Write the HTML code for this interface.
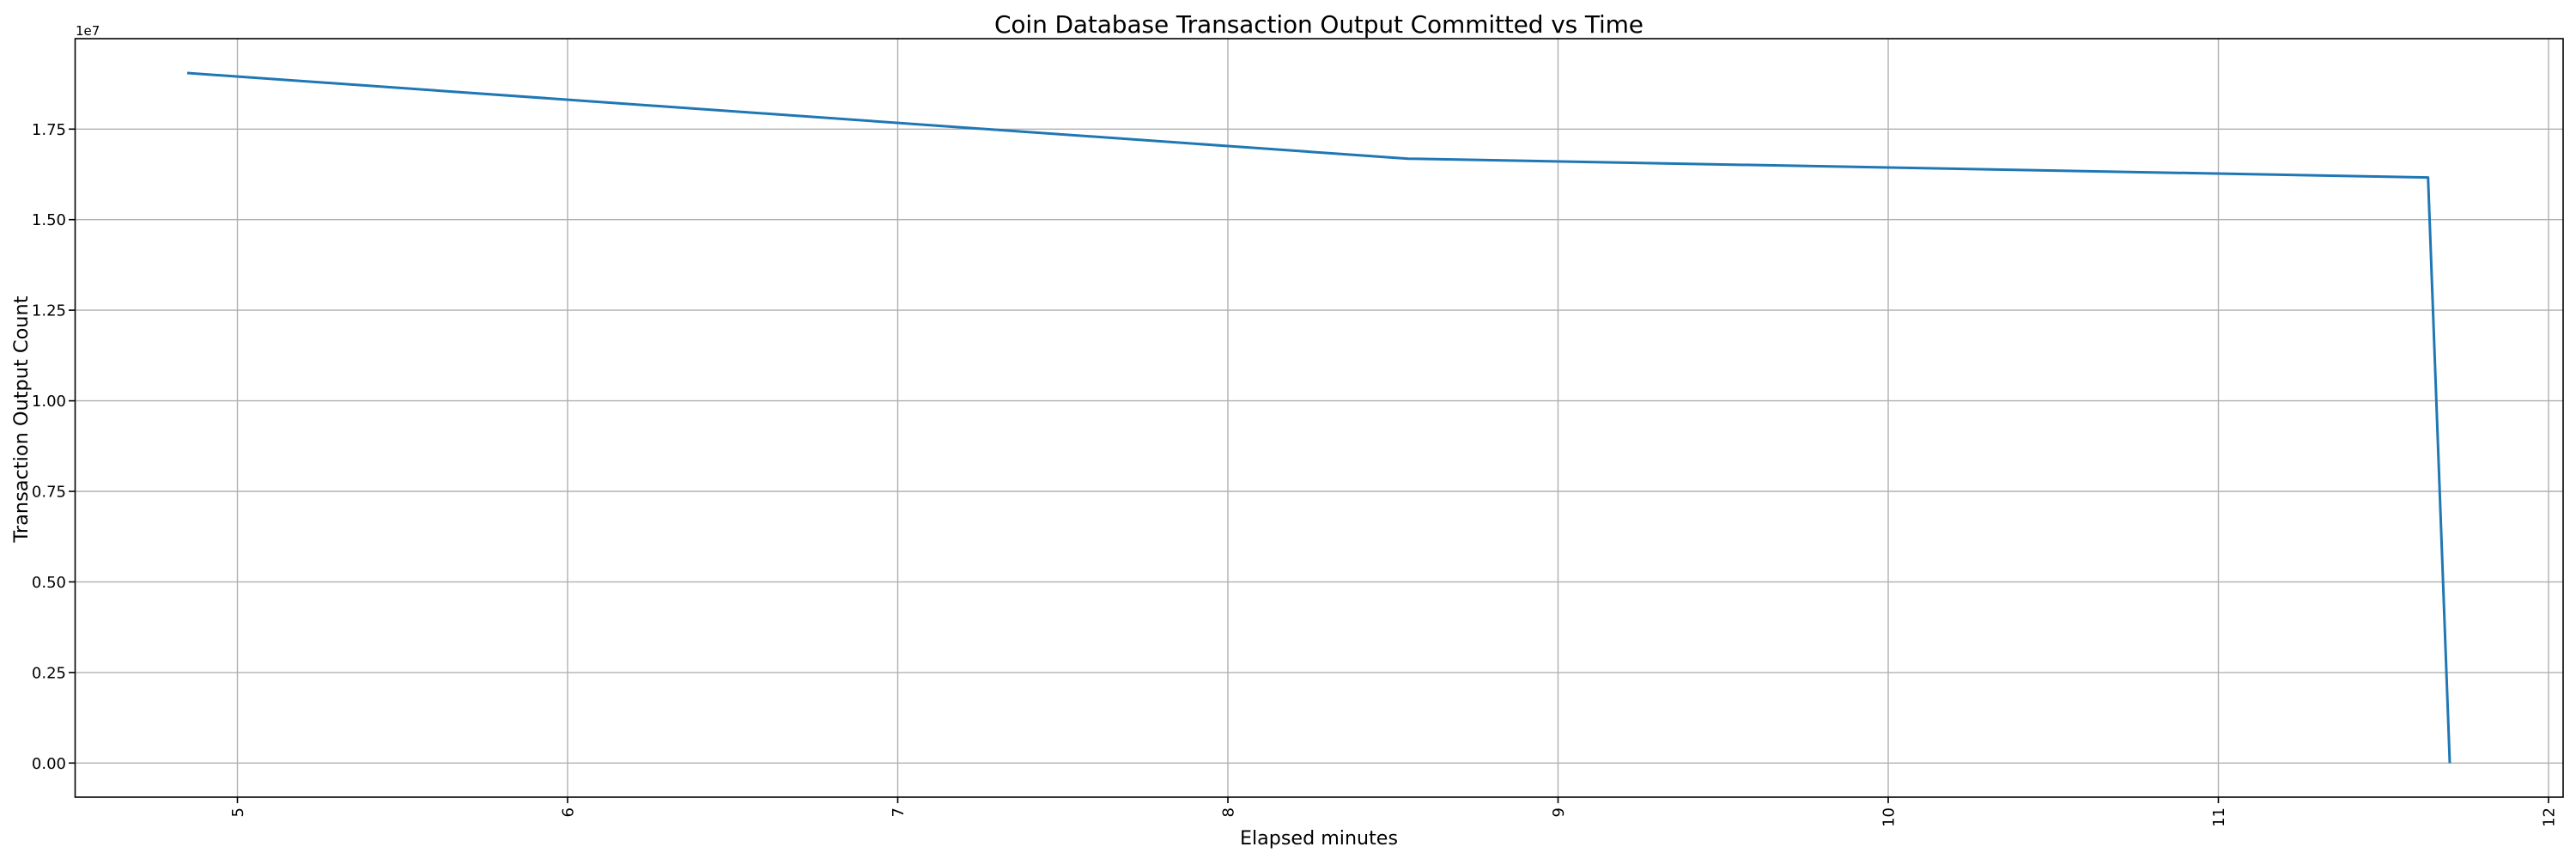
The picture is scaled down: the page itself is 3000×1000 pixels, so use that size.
<!DOCTYPE html>
<html><head><meta charset="utf-8"><style>body{margin:0;background:#fff}svg{display:block}</style></head>
<body>
<svg width="3000" height="1000" xmlns="http://www.w3.org/2000/svg" font-family="'DejaVu Sans','Liberation Sans',sans-serif">
<rect width="3000" height="1000" fill="#fff"/>
<g stroke="#b0b0b0" stroke-width="1.4">
<line x1="276.5" y1="45" x2="276.5" y2="928"/>
<line x1="661" y1="45" x2="661" y2="928"/>
<line x1="1045.5" y1="45" x2="1045.5" y2="928"/>
<line x1="1430" y1="45" x2="1430" y2="928"/>
<line x1="1814.5" y1="45" x2="1814.5" y2="928"/>
<line x1="2199" y1="45" x2="2199" y2="928"/>
<line x1="2583.5" y1="45" x2="2583.5" y2="928"/>
<line x1="2968" y1="45" x2="2968" y2="928"/>
<line x1="87.5" y1="150.3" x2="2985" y2="150.3"/>
<line x1="87.5" y1="255.7" x2="2985" y2="255.7"/>
<line x1="87.5" y1="361.1" x2="2985" y2="361.1"/>
<line x1="87.5" y1="466.6" x2="2985" y2="466.6"/>
<line x1="87.5" y1="572" x2="2985" y2="572"/>
<line x1="87.5" y1="677.4" x2="2985" y2="677.4"/>
<line x1="87.5" y1="782.9" x2="2985" y2="782.9"/>
<line x1="87.5" y1="888.3" x2="2985" y2="888.3"/>
</g>
<polyline points="218,85 1430,170 1640,184.7 2827.7,206.6 2853,888.3" fill="none" stroke="#1f77b4" stroke-width="3" stroke-linejoin="round"/>
<rect x="87.5" y="45" width="2897.5" height="883" fill="none" stroke="#000" stroke-width="1.6"/>
<g stroke="#000" stroke-width="1.6">
<line x1="80" y1="150.3" x2="87.5" y2="150.3"/><line x1="80" y1="255.7" x2="87.5" y2="255.7"/>
<line x1="80" y1="361.1" x2="87.5" y2="361.1"/><line x1="80" y1="466.6" x2="87.5" y2="466.6"/>
<line x1="80" y1="572" x2="87.5" y2="572"/><line x1="80" y1="677.4" x2="87.5" y2="677.4"/>
<line x1="80" y1="782.9" x2="87.5" y2="782.9"/><line x1="80" y1="888.3" x2="87.5" y2="888.3"/>
<line x1="276.5" y1="928" x2="276.5" y2="935"/><line x1="661" y1="928" x2="661" y2="935"/>
<line x1="1045.5" y1="928" x2="1045.5" y2="935"/><line x1="1430" y1="928" x2="1430" y2="935"/>
<line x1="1814.5" y1="928" x2="1814.5" y2="935"/><line x1="2199" y1="928" x2="2199" y2="935"/>
<line x1="2583.5" y1="928" x2="2583.5" y2="935"/><line x1="2968" y1="928" x2="2968" y2="935"/>
</g>
<g font-size="18" text-anchor="end" fill="#000">
<text x="77" y="156.8">1.75</text><text x="77" y="262.2">1.50</text><text x="77" y="367.7">1.25</text>
<text x="77" y="473.2">1.00</text><text x="77" y="578.5">0.75</text><text x="77" y="684">0.50</text>
<text x="77" y="789.4">0.25</text><text x="77" y="894.8">0.00</text>
</g>
<text x="88" y="41" font-size="15">1e7</text>
<g font-size="18" text-anchor="end" fill="#000">
<text transform="translate(283,940) rotate(-90)">5</text>
<text transform="translate(667.5,940) rotate(-90)">6</text>
<text transform="translate(1052,940) rotate(-90)">7</text>
<text transform="translate(1436.5,940) rotate(-90)">8</text>
<text transform="translate(1821,940) rotate(-90)">9</text>
<text transform="translate(2205.5,940) rotate(-90)">10</text>
<text transform="translate(2590,940) rotate(-90)">11</text>
<text transform="translate(2974.5,940) rotate(-90)">12</text>
</g>
<text x="1536" y="38" font-size="28" text-anchor="middle" textLength="756" lengthAdjust="spacing">Coin Database Transaction Output Committed vs Time</text>
<text x="1536" y="983" font-size="22" text-anchor="middle" textLength="184" lengthAdjust="spacingAndGlyphs">Elapsed minutes</text>
<text transform="translate(32,488) rotate(-90)" font-size="22" text-anchor="middle" textLength="287" lengthAdjust="spacingAndGlyphs">Transaction Output Count</text>
</svg>
</body></html>
